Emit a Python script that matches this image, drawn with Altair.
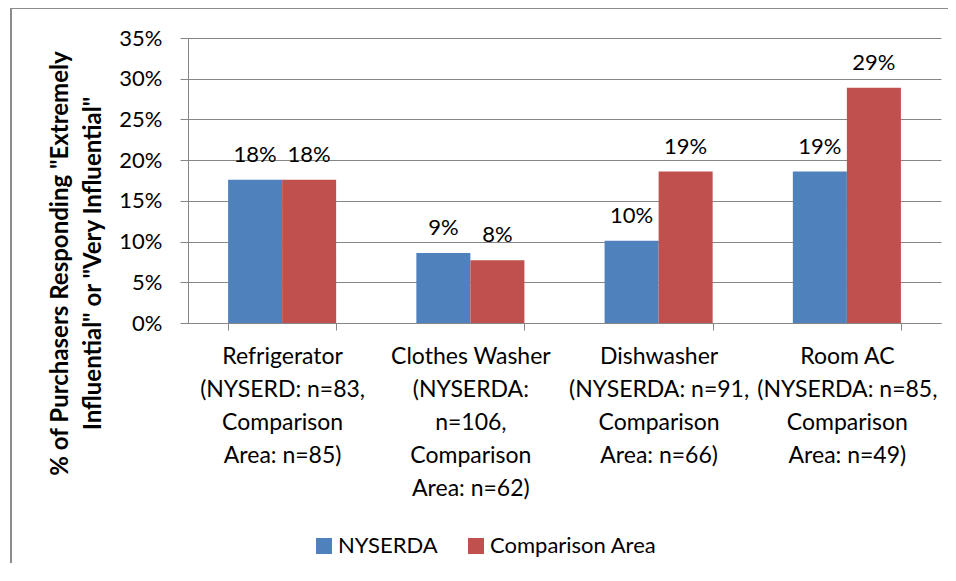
import altair as alt
import pandas as pd

# ---- data ----
category_lines = [
    ["Refrigerator", "(NYSERD: n=83,", "Comparison", "Area: n=85)"],
    ["Clothes Washer", "(NYSERDA:", "n=106,", "Comparison", "Area: n=62)"],
    ["Dishwasher", "(NYSERDA: n=91,", "Comparison", "Area: n=66)"],
    ["Room AC", "(NYSERDA: n=85,", "Comparison", "Area: n=49)"],
]
series_names = ["NYSERDA", "Comparison Area"]
nyserda_pct = [17.6, 8.6, 10.1, 18.6]
comparison_pct = [17.6, 7.7, 18.6, 28.9]
y_ticks = [0, 5, 10, 15, 20, 25, 30, 35]
y_title = ['% of Purchasers Responding "Extremely', 'Influential" or "Very Influential"']
series_colors = ["#4F81BD", "#C0504D"]

categories = ["\n".join(lines) for lines in category_lines]
rows = []
for c, a, b in zip(categories, nyserda_pct, comparison_pct):
    rows.append({"category": c, "series": series_names[0], "value": a})
    rows.append({"category": c, "series": series_names[1], "value": b})
df = pd.DataFrame(rows)

FONT = "Lato"
GRID = "#868686"
W, H = 753, 285

x_enc = alt.X(
    "category:N",
    sort=categories,
    scale=alt.Scale(paddingInner=0.426, paddingOuter=0.213),
    axis=alt.Axis(
        title=None,
        labelExpr="split(datum.label, '\\n')",
        labelAngle=0,
        labelFontSize=23,
        labelLineHeight=33,
        labelPadding=15,
        labelLimit=0,
        labelOverlap=False,
        labelColor="black",
        labelFont=FONT,
        tickBand="extent",
        tickSize=7,
        tickColor=GRID,
        domainColor=GRID,
        grid=False,
    ),
)
xo_enc = alt.XOffset("series:N", sort=series_names)
y_enc = alt.Y(
    "value:Q",
    scale=alt.Scale(domain=[0, 35], nice=False),
    axis=alt.Axis(
        values=y_ticks,
        labelExpr="datum.value + '%'",
        labelFontSize=22,
        labelFont=FONT,
        labelColor="black",
        labelPadding=18,
        tickSize=8,
        tickColor=GRID,
        domainColor=GRID,
        gridColor=GRID,
        title=y_title,
        titleFont=FONT,
        titleFontSize=24,
        titleFontWeight="bold",
        titleColor="black",
        titleAngle=-90,
        titleAlign="center",
        titleBaseline="top",
        titleX=-140,
        titleY=225,
        titleLineHeight=33,
    ),
)
color_enc = alt.Color(
    "series:N",
    sort=series_names,
    scale=alt.Scale(domain=series_names, range=series_colors),
    legend=alt.Legend(
        orient="none",
        legendX=125,
        legendY=497,
        direction="horizontal",
        title=None,
        symbolType="square",
        symbolSize=256,
        symbolStrokeWidth=0,
        labelFontSize=22,
        labelFont=FONT,
        labelColor="black",
        labelLimit=0,
        labelOffset=3,
        columnPadding=27,
        padding=0,
    ),
)

bars = alt.Chart(df).mark_bar().encode(x=x_enc, xOffset=xo_enc, y=y_enc, color=color_enc)
labels = (
    alt.Chart(df)
    .transform_calculate(label="round(datum.value) + '%'")
    .mark_text(baseline="alphabetic", dy=-18, fontSize=22, font=FONT, color="black")
    .encode(x=x_enc, xOffset=xo_enc, y=y_enc, text="label:N")
)
border = (
    alt.Chart(pd.DataFrame({"k": [0]}))
    .mark_rect(fill=None, stroke="#8c8c8c", strokeWidth=2)
    .encode(x=alt.value(-177), x2=alt.value(900), y=alt.value(-30), y2=alt.value(900))
)

chart = (
    alt.layer(border, bars, labels)
    .properties(
        width=W,
        height=H,
        autosize=alt.AutoSizeParams(type="none"),
        padding={"left": 180, "top": 30, "right": 7, "bottom": 240},
        background="white",
    )
    .configure_view(stroke=None)
)
chart.save("out.html", embed_options={"renderer": "svg", "actions": False})
